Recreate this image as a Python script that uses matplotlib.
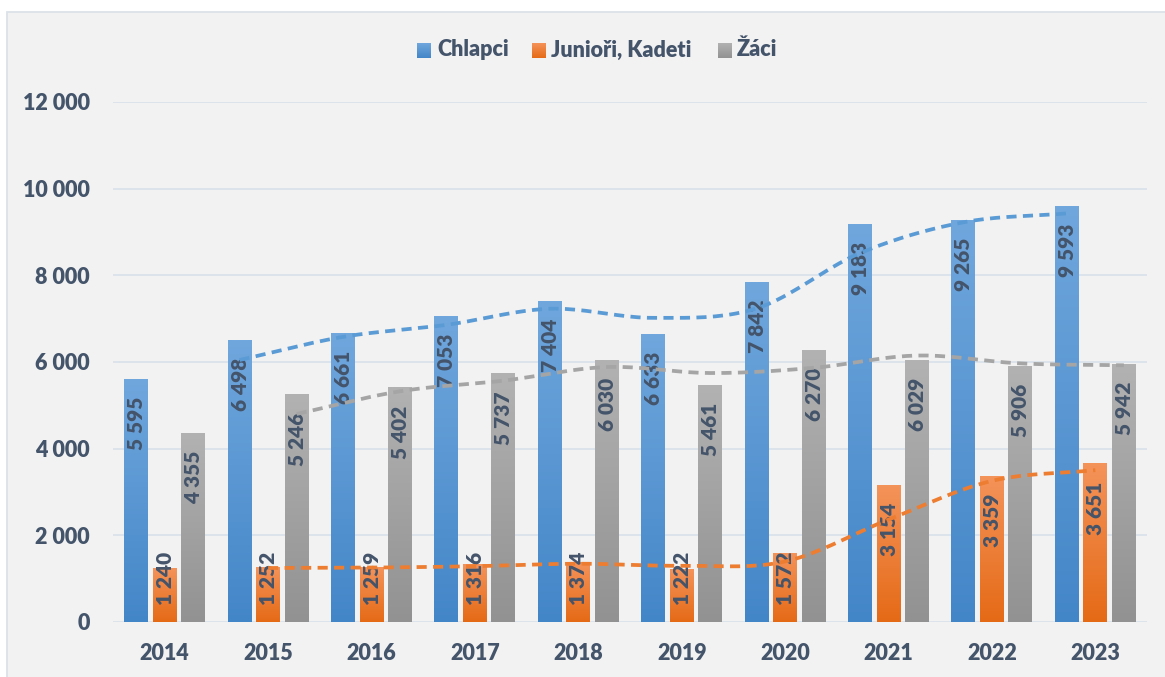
import numpy as np
import matplotlib
matplotlib.use('Agg')
import matplotlib.pyplot as plt
from matplotlib.colors import LinearSegmentedColormap
from matplotlib.patches import Rectangle

# ---------------- data ----------------
years = ['2014', '2015', '2016', '2017', '2018', '2019', '2020', '2021', '2022', '2023']
chlapci = [5595, 6498, 6661, 7053, 7404, 6633, 7842, 9183, 9265, 9593]
juniori = [1240, 1252, 1259, 1316, 1374, 1222, 1572, 3154, 3359, 3651]
zaci = [4355, 5246, 5402, 5737, 6030, 5461, 6270, 6029, 5906, 5942]
series_names = ['Chlapci', 'Junioři, Kadeti', 'Žáci']
y_ticks = [0, 2000, 4000, 6000, 8000, 10000, 12000]

# ---------------- style ----------------
plt.rcParams['font.family'] = ['Lato', 'DejaVu Sans']
WT = 'heavy'
TXT = '#44546a'
GRID = '#dde3ea'
grad_cols = [('#4386c8', '#70a7dd'),   # bottom, top
             ('#e56a16', '#f4935a'),
             ('#929292', '#b2b2b2')]
trend_cols = ['#5b9bd5', '#ed7d31', '#a5a5a5']
cmaps = [LinearSegmentedColormap.from_list(f'g{i}', c) for i, c in enumerate(grad_cols)]

W, H = 1165, 677
fig = plt.figure(figsize=(W / 100, H / 100), dpi=100)
fig.patch.set_facecolor('white')
fig.patches.append(Rectangle((6.5 / W, -0.01), 1.1, (H - 11.5) / H + 0.01,
                             transform=fig.transFigure, facecolor='#f2f2f2',
                             edgecolor='#dce2e9', lw=1.3, zorder=-5))

ax = fig.add_axes([113 / W, (H - 622) / H, (1147 - 113) / W, (622 - 102) / H])
ax.set_facecolor('none')

series = [chlapci, juniori, zaci]
n = len(years)
bw = 0.232
offs = [-0.276, 0.0, 0.276]
px_per_unit = 520 / 12000.0
grad = np.linspace(0, 1, 256).reshape(-1, 1)

for s, vals in enumerate(series):
    for i, v in enumerate(vals):
        x0 = i + offs[s] - bw / 2
        ax.imshow(grad, extent=[x0, x0 + bw, 0, v], aspect='auto', cmap=cmaps[s],
                  origin='lower', interpolation='bilinear', zorder=2)
        # data label (inside end, rotated)
        top = v - 17.5 / px_per_unit
        top = max(top, 70 / px_per_unit)
        ax.text(i + offs[s] + 0.005, top, f'{v:,}'.replace(',', ' '), rotation=90,
                ha='center', va='top', fontsize=15, fontweight=WT, color=TXT, zorder=4)


def smooth(xs, ys, k=20):
    xs = np.asarray(xs, float); ys = np.asarray(ys, float)
    P = np.column_stack([xs, ys])
    m = np.zeros_like(P)
    m[1:-1] = (P[2:] - P[:-2]) / 2
    m[0] = P[1] - P[0]
    m[-1] = P[-1] - P[-2]
    out = []
    for j in range(len(P) - 1):
        t = np.linspace(0, 1, k, endpoint=(j == len(P) - 2))[:, None]
        h00 = 2 * t**3 - 3 * t**2 + 1
        h10 = t**3 - 2 * t**2 + t
        h01 = -2 * t**3 + 3 * t**2
        h11 = t**3 - t**2
        out.append(h00 * P[j] + h10 * m[j] + h01 * P[j + 1] + h11 * m[j + 1])
    out = np.vstack(out)
    return out[:, 0], out[:, 1]


# two-period moving average trendlines
for s, vals in enumerate(series):
    v = np.asarray(vals, float)
    ma = (v[1:] + v[:-1]) / 2
    xs = np.arange(1, n) + offs[s]
    sx, sy = smooth(xs, ma)
    ax.plot(sx, sy, color=trend_cols[s], lw=2.7, linestyle=(0, (2.7, 1.7)), zorder=5)

ax.set_xlim(-0.5, n - 0.5)
ax.set_ylim(0, 12000)
ax.set_yticks(y_ticks)
ax.set_yticklabels([f'{t:,}'.replace(',', ' ') for t in y_ticks],
                   fontsize=15.5, fontweight=WT, color=TXT)
ax.set_xticks(range(n))
ax.set_xticklabels(years, fontsize=15.5, fontweight=WT, color=TXT)
ax.yaxis.grid(True, color=GRID, lw=1.4, zorder=0)
ax.set_axisbelow(True)
for sp in ax.spines.values():
    sp.set_visible(False)
ax.tick_params(axis='both', length=0)
ax.tick_params(axis='y', pad=16.5)
ax.tick_params(axis='x', pad=15)

# legend (manual, gradient swatches)
leg = [(417, 437), (532, 551), (718, 737)]
for s, (sqx, tx) in enumerate(leg):
    lax = fig.add_axes([sqx / W, (H - 58) / H, 14 / W, 15 / H])
    lax.imshow(grad, aspect='auto', cmap=cmaps[s], origin='lower', interpolation='bilinear')
    lax.axis('off')
    fig.text(tx / W, (H - 50) / H, series_names[s], ha='left', va='center',
             fontsize=15.5, fontweight=WT, color=TXT)

fig.savefig('out.png', dpi=100, facecolor=fig.get_facecolor())
